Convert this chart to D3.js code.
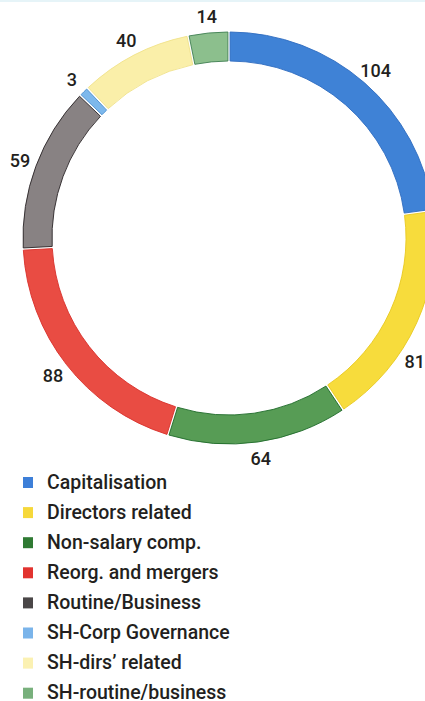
<!DOCTYPE html>
<html>
<head>
<meta charset="utf-8">
<script src="https://cdn.jsdelivr.net/npm/d3@7"></script>
<style>
  html, body { margin: 0; padding: 0; background: #fff; }
  svg { display: block; }
  text { font-family: Roboto, "Liberation Sans", Arial, sans-serif; font-weight: 500; fill: #231f20; }
</style>
</head>
<body>
<svg id="chart" width="425" height="701"></svg>
<script>
// Resolution counts by category
const categories = [
  "Capitalisation",
  "Directors related",
  "Non-salary comp.",
  "Reorg. and mergers",
  "Routine/Business",
  "SH-Corp Governance",
  "SH-dirs\u2019 related",
  "SH-routine/business"
];
const values = [104, 81, 64, 88, 59, 3, 40, 14];
const colors = ["#3f82d6", "#f7dc3c", "#579c55", "#e94c43", "#888283", "#7db8ec", "#faefa9", "#8cbf8d"];
const strokes = ["#2f6cc0", "#e8c820", "#1f6b2a", "#d8302a", "#2a2527", "#4a8fd0", "#f1e28a", "#3f7f52"];
const legendSwatch = ["#3d7fd8", "#f6d83a", "#2f7a33", "#e2332f", "#4a4647", "#7ab4ea", "#fbf1b2", "#78b07c"];

const W = 425, H = 701;
const cx = 229, cy = 238;
const rOuter = 206, rInner = 177, rLabel = 223;

const svg = d3.select("#chart");

// faint rule along the top edge
svg.append("rect").attr("x", 0).attr("y", 0).attr("width", W).attr("height", 2).attr("fill", "#e6f4f8");

const data = categories.map((c, i) => ({ name: c, value: values[i], i }));

const pie = d3.pie().value(d => d.value).sort(null).padAngle(0.008);
const arc = d3.arc().innerRadius(rInner).outerRadius(rOuter);
const arcs = pie(data);

const g = svg.append("g").attr("transform", `translate(${cx},${cy})`);

g.selectAll("path.slice")
  .data(arcs)
  .join("path")
  .attr("class", "slice")
  .attr("d", arc)
  .attr("fill", d => colors[d.data.i])
  .attr("stroke", d => strokes[d.data.i])
  .attr("stroke-width", 0.9);

// value labels on a circle outside the ring, slid along it to stay inside the frame
const fontSize = 18;
const labels = g.selectAll("text.val")
  .data(arcs)
  .join("text")
  .attr("class", "val")
  .attr("text-anchor", "middle")
  .attr("dominant-baseline", "central")
  .style("font-size", fontSize + "px")
  .text(d => d.data.value);

labels.each(function(d) {
  const half = this.getComputedTextLength() / 2;
  let a = (d.startAngle + d.endAngle) / 2;
  let x = rLabel * Math.sin(a);
  let y = -rLabel * Math.cos(a);
  const maxX = W - cx - half;
  if (x > maxX) {
    const s = Math.asin(maxX / rLabel);
    a = Math.cos(a) < 0 ? Math.PI - s : s;
    x = rLabel * Math.sin(a);
    y = -rLabel * Math.cos(a);
  }
  d3.select(this).attr("x", x).attr("y", y);
});

// legend
const legendX = 23, legendY0 = 482, rowH = 30.1;
const legend = svg.append("g");
const rows = legend.selectAll("g.row")
  .data(data)
  .join("g")
  .attr("class", "row")
  .attr("transform", (d, i) => `translate(${legendX},${legendY0 + i * rowH})`);

rows.append("rect")
  .attr("x", 0).attr("y", -5)
  .attr("width", 10).attr("height", 11)
  .attr("fill", d => legendSwatch[d.i]);

rows.append("text")
  .attr("x", 24)
  .attr("y", 0)
  .attr("dominant-baseline", "central")
  .style("font-size", "19.5px")
  .text(d => d.name);
</script>
</body>
</html>
